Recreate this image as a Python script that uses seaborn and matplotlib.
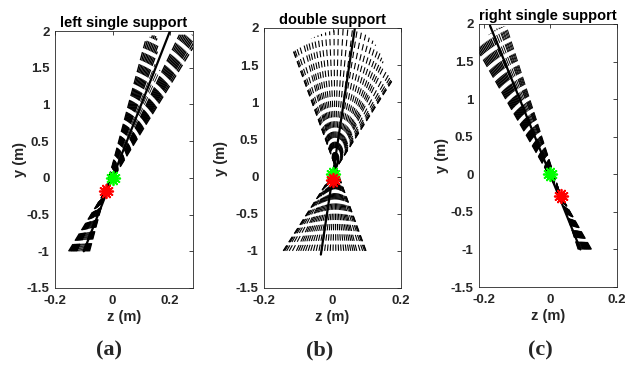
import numpy as np
import pandas as pd
import matplotlib
matplotlib.use("Agg")
import matplotlib.pyplot as plt
import seaborn as sns

sns.set_theme(style="white")
plt.rcParams['font.family'] = ['Liberation Sans', 'DejaVu Sans']
plt.rcParams['font.weight'] = 'bold'
plt.rcParams['lines.scale_dashes'] = False

INK = '#262626'
BOTTOM_Y = -1.0   # every dashed line starts at y = -1

# ---- panel (a): left single support ----
a_dark_bottom = [-0.0801, -0.0826, -0.0851, -0.0875, -0.0900, -0.0925, -0.0950, -0.0974,
                 -0.0999, -0.1024,
                 -0.1238, -0.1263, -0.1288, -0.1313, -0.1337, -0.1362, -0.1387, -0.1412,
                 -0.1436, -0.1461, -0.1494, -0.1527]
a_dark_top_z = [0.1144, 0.1226, 0.1310, 0.1389, 0.1452, 0.1507, 0.1545, 0.1571,
                0.1577, 0.1560,
                0.2331, 0.2395, 0.2459, 0.2523, 0.2586, 0.2650, 0.2714, 0.2778,
                0.2841, 0.2905, 0.2990, 0.3075]
a_dark_top_y = [1.86, 1.89, 1.92, 1.94, 1.94, 1.93, 1.90, 1.86, 1.80, 1.72,
                1.95, 1.95, 1.95, 1.95, 1.95, 1.95, 1.95, 1.95, 1.95, 1.95, 1.95, 1.95]
a_light_bottom = [-0.1065, -0.1106, -0.1148, -0.1189]
a_light_top_z = [0.1485, 0.1498, 0.1548, 0.1652]
a_light_top_y = [1.55, 1.48, 1.45, 1.47]
a_solid_z = [-0.100, 0.200]
a_solid_y = [-1.00, 2.00]
a_green = (0.0, 0.0)
a_red = (-0.024, -0.175)

# ---- panel (b): double support ----
b_bottom = [0.098, 0.0969, 0.0935, 0.0880, 0.0804, 0.0709, 0.0652, 0.0595, 0.0532,
            0.0468, 0.0398, 0.0327, 0.0251, 0.0175, 0.0096, 0.0016, -0.0066, -0.0147,
            -0.0230, -0.0313, -0.0395, -0.0476, -0.0556, -0.0635, -0.0711, -0.0787,
            -0.0858, -0.0928, -0.0992, -0.1055, -0.1169, -0.1264, -0.1340, -0.1395,
            -0.1429, -0.1440]
b_top_z = [-0.1162, -0.1150, -0.1114, -0.1049, -0.0963, -0.0848, -0.0777, -0.0705, -0.0617,
           -0.0529, -0.0427, -0.0324, -0.0205, -0.0085, 0.0044, 0.0172, 0.0311, 0.0450,
           0.0585, 0.0720, 0.0844, 0.0967, 0.1074, 0.1180, 0.1258, 0.1335,
           0.1387, 0.1438, 0.1478, 0.1517, 0.1577, 0.1632, 0.1670, 0.1705,
           0.1724, 0.1730]
b_top_y = [1.710, 1.713, 1.725, 1.740, 1.765, 1.800, 1.820, 1.840, 1.860,
           1.880, 1.900, 1.920, 1.940, 1.955, 1.970, 1.985, 1.995, 2.000,
           1.985, 1.970, 1.940, 1.910, 1.870, 1.830, 1.775, 1.720,
           1.660, 1.600, 1.550, 1.500, 1.420, 1.365, 1.325, 1.300,
           1.285, 1.280]
b_solid_z = [-0.034, 0.066]
b_solid_y = [-1.05, 2.02]
b_green = (0.0, 0.04)
b_red = (0.0, -0.045)

# ---- panel (c): right single support ----
c_dark_bottom = [0.098, 0.1005, 0.103, 0.105, 0.107, 0.109, 0.111, 0.113, 0.115,
                 0.117, 0.119, 0.121, 0.123]
c_dark_top_z = [-0.1737, -0.1794, -0.1850, -0.1889, -0.1928, -0.1965, -0.2001, -0.2036,
                -0.2069, -0.2102, -0.2134, -0.2177, -0.2219]
c_dark_top_y = [1.90, 1.88, 1.86, 1.84, 1.82, 1.80, 1.78, 1.76, 1.74, 1.72, 1.70, 1.69, 1.68]
c_light_bottom = [0.083, 0.0843, 0.0855, 0.0868, 0.088, 0.0893, 0.0905, 0.093, 0.0955]
c_light_top_z = [-0.1329, -0.1370, -0.1408, -0.1445, -0.1479, -0.1515, -0.1550, -0.1619, -0.1679]
c_light_top_y = [1.97, 1.97, 1.97, 1.96, 1.96, 1.95, 1.95, 1.94, 1.92]
c_solid_z = [0.090, -0.182]
c_solid_y = [-1.00, 1.98]
c_green = (0.0, 0.0)
c_red = (0.031, -0.285)

titles = ['left single support', 'double support', 'right single support']
panel_tags = ['(a)', '(b)', '(c)']
x_ticks = [-0.2, 0, 0.2]
y_ticks = [-1.5, -1, -0.5, 0, 0.5, 1, 1.5, 2]


def fan_frame(bottom, top_z, top_y):
    rows = []
    for i, (b, tz, ty) in enumerate(zip(bottom, top_z, top_y)):
        rows.append({'seg': i, 'z': b, 'y': BOTTOM_Y})
        rows.append({'seg': i, 'z': tz, 'y': ty})
    return pd.DataFrame(rows)


def draw_fan(ax, bottom, top_z, top_y, lw, dash):
    df = fan_frame(bottom, top_z, top_y)
    sns.lineplot(data=df, x='z', y='y', units='seg', estimator=None, sort=False,
                 color='black', lw=lw, linestyle=(0, dash), ax=ax, legend=False)


def draw_solid(ax, zs, ys):
    sns.lineplot(x=zs, y=ys, sort=False, estimator=None, color='black', lw=1.6, ax=ax)


def draw_stars(ax, green, red):
    sns.scatterplot(x=[green[0]], y=[green[1]], marker=(12, 2, 0), s=95,
                    color='#00ff00', linewidth=1.3, ax=ax, zorder=5)
    sns.scatterplot(x=[red[0]], y=[red[1]], marker=(12, 2, 0), s=95,
                    color='#ff0000', linewidth=1.3, ax=ax, zorder=6)


fig = plt.figure(figsize=(6.4, 3.68), dpi=100)
W, H = 640, 368
rects = [(55, 193, 31, 288), (264, 401, 28, 288), (479, 617, 24, 287)]
xlims = [(-0.2, 0.28), (-0.2, 0.2), (-0.215, 0.2)]
ylab_x = [-0.203, -0.265, -0.221]
axes = []
for (l, r, t, b) in rects:
    axes.append(fig.add_axes([l / W, (H - b) / H, (r - l) / W, (b - t) / H]))

single_dash = (6.0, 2.9)
double_dash = (4.6, 2.8)

ax = axes[0]
draw_fan(ax, a_dark_bottom, a_dark_top_z, a_dark_top_y, 1.0, single_dash)
draw_fan(ax, a_light_bottom, a_light_top_z, a_light_top_y, 0.6, single_dash)
draw_solid(ax, a_solid_z, a_solid_y)
draw_stars(ax, a_green, a_red)

ax = axes[1]
draw_fan(ax, b_bottom, b_top_z, b_top_y, 0.8, double_dash)
draw_solid(ax, b_solid_z, b_solid_y)
draw_stars(ax, b_green, b_red)

ax = axes[2]
draw_fan(ax, c_dark_bottom, c_dark_top_z, c_dark_top_y, 1.0, single_dash)
draw_fan(ax, c_light_bottom, c_light_top_z, c_light_top_y, 0.7, single_dash)
draw_solid(ax, c_solid_z, c_solid_y)
draw_stars(ax, c_green, c_red)

for i, ax in enumerate(axes):
    ax.set_xlim(*xlims[i])
    ax.set_ylim(-1.5, 2)
    ax.set_xticks(x_ticks)
    ax.set_xticklabels(['-0.2', '0', '0.2'])
    ax.set_yticks(y_ticks)
    ax.set_yticklabels(['-1.5', '-1', '-0.5', '0', '0.5', '1', '1.5', '2'])
    ax.tick_params(direction='in', top=True, right=True, length=3, width=0.6,
                   color=INK, labelcolor=INK, labelsize=9.5, pad=4)
    ax.tick_params(axis='x', pad=5)
    for s in ax.spines.values():
        s.set_color(INK)
        s.set_linewidth(0.6)
    ax.set_title(titles[i], fontsize=10.5, fontweight='bold', color='black', pad=3)
    ax.set_xlabel('z (m)', fontsize=10.5, fontweight='bold', color=INK, labelpad=2)
    ax.set_ylabel('y (m)', fontsize=10.5, fontweight='bold', color=INK)
    ax.yaxis.set_label_coords(ylab_x[i], 0.5)
    for lab in ax.get_xticklabels() + ax.get_yticklabels():
        lab.set_fontweight('bold')

tag_x = [109, 320, 540]
for x, tag in zip(tag_x, panel_tags):
    fig.text(x / W, 1 - 350 / H, tag, ha='center', va='center', fontsize=16,
             fontweight='bold', family=['Liberation Serif', 'DejaVu Serif'])

fig.savefig('out.png', dpi=100)
